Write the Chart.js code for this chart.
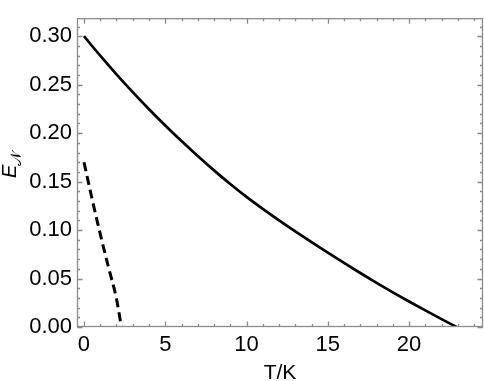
<!DOCTYPE html>
<html>
<head>
<meta charset="utf-8">
<script src="https://cdn.jsdelivr.net/npm/chart.js@4/dist/chart.umd.min.js"></script>
<style>
  html, body { margin: 0; padding: 0; background: #fff; }
  #wrap { width: 484px; height: 381px; }
</style>
</head>
<body>
<div id="wrap"><canvas id="c" width="484" height="381"></canvas></div>
<script>
// Solid curve: E_N vs T (K)
const solidT = [0, 1, 2, 3, 4, 5, 6, 7, 8, 9, 10, 11, 12, 13, 14, 15, 16, 17, 18, 19, 20, 21, 22, 22.92];
const solidE = [0.3000, 0.2799, 0.2607, 0.2423, 0.2247, 0.2079, 0.1918, 0.1764, 0.1616, 0.1475, 0.1342, 0.1218, 0.1100, 0.0986, 0.0875, 0.0767, 0.0661, 0.0557, 0.0456, 0.0358, 0.0263, 0.0171, 0.0081, 0.0];
// Dashed curve
const dashT = [0, 0.5, 1, 1.5, 2, 2.3];
const dashE = [0.170, 0.132, 0.096, 0.062, 0.029, 0.0];
// Tick labels
const xTicks = [0, 5, 10, 15, 20];
const yTicks = [0.00, 0.05, 0.10, 0.15, 0.20, 0.25, 0.30];
const xMinorStep = 1;
const yMinorStep = 0.01;
const xTitle = "T/K";

const toPts = (xs, ys) => xs.map((x, i) => ({ x: x, y: ys[i] }));

const FONT = "'Liberation Sans', Arial, sans-serif";
const FRAME = "#8c8c8c";

const framePlugin = {
  id: 'frame',
  afterDraw(chart) {
    const ctx = chart.ctx;
    const a = chart.chartArea;
    const xs = chart.scales.x, ys = chart.scales.y;
    ctx.save();
    ctx.strokeStyle = FRAME;
    ctx.lineWidth = 1.3;
    ctx.strokeRect(a.left + 0.5, a.top + 0.5, a.right - a.left - 1, a.bottom - a.top - 1);
    const majL = 5.5, minL = 3;
    for (let v = Math.ceil(xs.min); v <= xs.max; v += xMinorStep) {
      const px = Math.round(xs.getPixelForValue(v)) + 0.5;
      const len = (v % 5 === 0) ? majL : minL;
      ctx.beginPath();
      ctx.moveTo(px, a.bottom); ctx.lineTo(px, a.bottom - len);
      ctx.moveTo(px, a.top); ctx.lineTo(px, a.top + len);
      ctx.stroke();
    }
    for (let k = 0; k * yMinorStep <= ys.max + 1e-9; k++) {
      const v = k * yMinorStep;
      const py = Math.round(ys.getPixelForValue(v)) + 0.5;
      const len = (k % 5 === 0) ? majL : minL;
      ctx.beginPath();
      ctx.moveTo(a.left, py); ctx.lineTo(a.left + len, py);
      ctx.moveTo(a.right, py); ctx.lineTo(a.right - len, py);
      ctx.stroke();
    }
    // axis titles
    ctx.fillStyle = '#000';
    ctx.font = "21px " + FONT;
    ctx.textAlign = 'center';
    ctx.textBaseline = 'alphabetic';
    ctx.fillText(xTitle, (a.left + a.right) / 2, 379);
    // y title: E with calligraphic N subscript
    ctx.save();
    ctx.translate(16, 178);
    ctx.rotate(-Math.PI / 2);
    ctx.textAlign = 'left';
    ctx.font = "italic 20px " + FONT;
    const wE = ctx.measureText("E").width;
    ctx.fillText("E", 0, 0);
    ctx.font = "15px 'DejaVu Sans', serif";
    ctx.fillText("\u{1D4A9}", wE - 1, 5);
    ctx.restore();
    ctx.restore();
  }
};

new Chart(document.getElementById('c'), {
  type: 'line',
  data: {
    datasets: [
      {
        data: toPts(solidT, solidE),
        borderColor: '#000',
        borderWidth: 2.7,
        pointRadius: 0,
        cubicInterpolationMode: 'monotone',
        fill: false
      },
      {
        data: toPts(dashT, dashE),
        borderColor: '#000',
        borderWidth: 3,
        borderDash: [9, 5],
        pointRadius: 0,
        cubicInterpolationMode: 'monotone',
        fill: false
      }
    ]
  },
  options: {
    responsive: false,
    animation: false,
    events: [],
    layout: { padding: { top: 1, right: 1, left: 0, bottom: 0 } },
    plugins: { legend: { display: false }, tooltip: { enabled: false } },
    scales: {
      x: {
        type: 'linear',
        min: -0.43,
        max: 24.55,
        grid: { display: false, drawTicks: false },
        border: { display: false },
        afterBuildTicks: s => { s.ticks = xTicks.map(v => ({ value: v })); },
        afterFit: s => { s.height = 54; },
        ticks: {
          color: '#000',
          padding: 5,
          maxRotation: 0,
          autoSkip: false,
          font: { family: FONT, size: 22 },
          callback: v => String(v)
        }
      },
      y: {
        type: 'linear',
        min: 0,
        max: 0.3186,
        grid: { display: false, drawTicks: false },
        border: { display: false },
        afterBuildTicks: s => { s.ticks = yTicks.map(v => ({ value: v })); },
        afterFit: s => { s.width = 77; },
        ticks: {
          color: '#000',
          padding: 5,
          autoSkip: false,
          font: { family: FONT, size: 22 },
          callback: v => Number(v).toFixed(2)
        }
      }
    }
  },
  plugins: [framePlugin]
});
</script>
</body>
</html>
